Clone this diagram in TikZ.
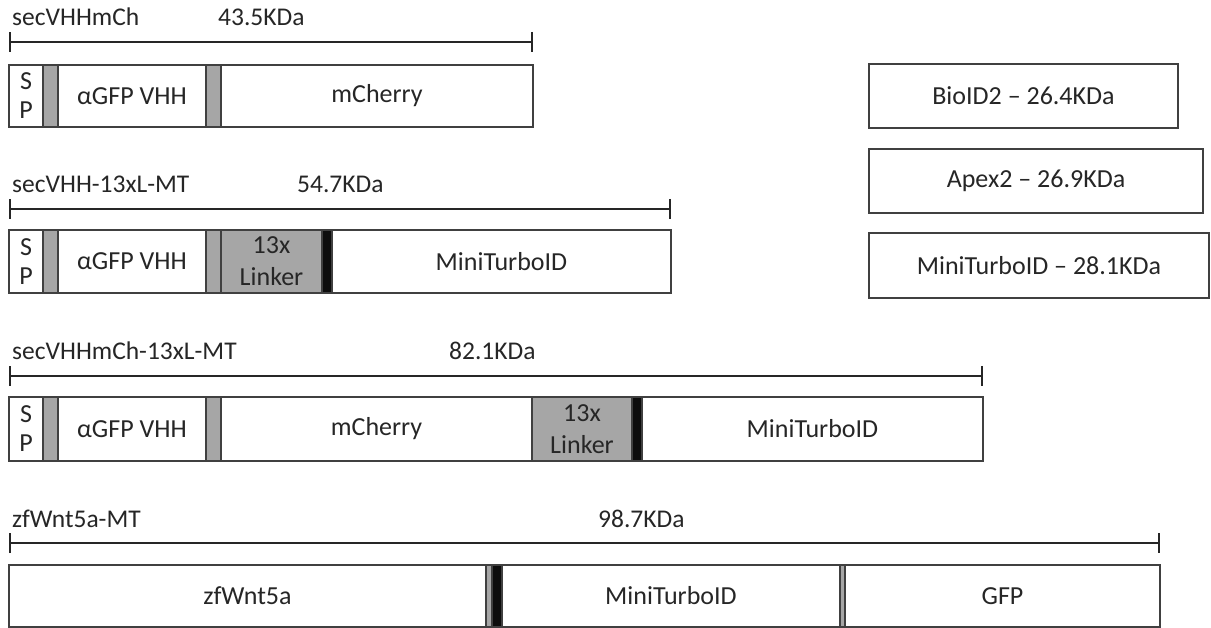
\documentclass[tikz,border=0pt]{standalone}
\usepackage{fontspec}
\setmainfont{Carlito}
\usetikzlibrary{arrows.meta}
\definecolor{edgec}{HTML}{404040}
\definecolor{linkc}{HTML}{A6A6A6}
\definecolor{barc}{HTML}{0D0D0D}
\tikzset{
  seg/.style={draw=edgec, line width=1.1pt, inner sep=0pt, outer sep=0pt, align=center,
    font=\fontsize{26}{29}\selectfont, text=black!85},
  wseg/.style={seg, fill=white},
  gseg/.style={seg, fill=linkc},
  bseg/.style={seg, fill=barc},
  lbl/.style={anchor=base west, inner sep=0pt, font=\fontsize{25.5}{28}\selectfont, text=black!85},
  scalebar/.style={line width=1.6pt, draw=black!85, {Bar[width=20pt,line width=1.6pt]}-{Bar[width=20pt,line width=1.6pt]}}
}
\newcommand{\seg}[7]{%
  \node[#6, minimum width={#3pt-#2pt}, minimum height={#5pt-#4pt}]
    (#1) at ({(#2+#3)/2},{(#4+#5)/2}) {#7};}
\begin{document}
\begin{tikzpicture}[x=1pt,y=-1pt]
\useasboundingbox (0,0) rectangle (1211,628);
% ---------- Row 1 ----------
\node[lbl] (l1) at (12,26) {secVHHmCh};
\node[lbl] (k1) at (218,26) {43.5KDa};
\coordinate (s1a) at (9,42); \coordinate (s1b) at (533,42);
\draw[scalebar] (s1a) -- (s1b);
\seg{r1sp}{9}{43}{65}{127}{wseg}{S\\[0pt]P}
\seg{r1g1}{43}{58}{65}{127}{gseg}{}
\seg{r1vhh}{58}{206}{65}{127}{wseg}{αGFP VHH}
\seg{r1g2}{206}{221}{65}{127}{gseg}{}
\seg{r1mch}{221}{533}{65}{127}{wseg}{mCherry}
% ---------- Row 2 ----------
\node[lbl] (l2) at (12,193) {secVHH-13xL-MT};
\node[lbl] (k2) at (297,193) {54.7KDa};
\coordinate (s2a) at (9,209); \coordinate (s2b) at (671,209);
\draw[scalebar] (s2a) -- (s2b);
\seg{r2sp}{9}{43}{230}{293}{wseg}{S\\[0pt]P}
\seg{r2g1}{43}{58}{230}{293}{gseg}{}
\seg{r2vhh}{58}{206}{230}{293}{wseg}{αGFP VHH}
\seg{r2g2}{206}{221}{230}{293}{gseg}{}
\seg{r2lnk}{221}{322}{230}{293}{gseg}{13x\\[3pt]Linker}
\seg{r2blk}{322}{332}{230}{293}{bseg}{}
\seg{r2mt}{332}{671}{230}{293}{wseg}{MiniTurboID}
% ---------- Row 3 ----------
\node[lbl] (l3) at (12,360) {secVHHmCh-13xL-MT};
\node[lbl] (k3) at (449,360) {82.1KDa};
\coordinate (s3a) at (9,376); \coordinate (s3b) at (983,376);
\draw[scalebar] (s3a) -- (s3b);
\seg{r3sp}{9}{43}{397}{461}{wseg}{S\\[0pt]P}
\seg{r3g1}{43}{58}{397}{461}{gseg}{}
\seg{r3vhh}{58}{206}{397}{461}{wseg}{αGFP VHH}
\seg{r3g2}{206}{221}{397}{461}{gseg}{}
\seg{r3mch}{221}{532}{397}{461}{wseg}{mCherry}
\seg{r3lnk}{532}{632}{397}{461}{gseg}{13x\\[3pt]Linker}
\seg{r3blk}{632}{642}{397}{461}{bseg}{}
\seg{r3mt}{642}{983}{397}{461}{wseg}{MiniTurboID}
% ---------- Row 4 ----------
\node[lbl] (l4) at (12,527) {zfWnt5a-MT};
\node[lbl] (k4) at (598,527) {98.7KDa};
\coordinate (s4a) at (9,543); \coordinate (s4b) at (1160,543);
\draw[scalebar] (s4a) -- (s4b);
\seg{r4wnt}{9}{486}{565}{627}{wseg}{zfWnt5a}
\seg{r4g1}{486}{492}{565}{627}{gseg}{}
\seg{r4blk}{492}{502}{565}{627}{bseg}{}
\seg{r4mt}{502}{840}{565}{627}{wseg}{MiniTurboID}
\seg{r4g2}{840}{845}{565}{627}{gseg}{}
\seg{r4gfp}{845}{1160}{565}{627}{wseg}{GFP}
% ---------- Right boxes ----------
\seg{bio}{869}{1178}{64}{128}{wseg}{BioID2 – 26.4KDa}
\seg{apex}{869}{1203}{149}{213}{wseg}{Apex2 – 26.9KDa}
\seg{mtb}{869}{1209}{233}{298}{wseg}{MiniTurboID – 28.1KDa}
\end{tikzpicture}
\end{document}
